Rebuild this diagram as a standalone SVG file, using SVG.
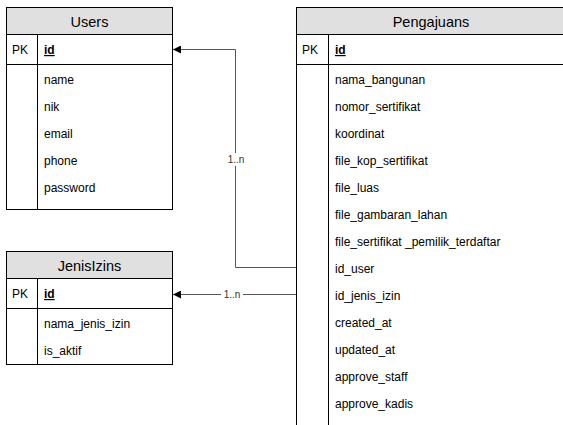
<svg xmlns="http://www.w3.org/2000/svg" width="563" height="425" viewBox="0 0 563 425">
  <style>
    .box { fill: #ffffff; stroke: #000000; stroke-width: 1; }
    .head { fill: #e0e0e0; stroke: #000000; stroke-width: 1; }
    .sep { stroke: #000000; stroke-width: 1; fill: none; }
    .title { font-family: "Liberation Sans", Arial, sans-serif; font-size: 14.5px; fill: #000000; text-anchor: middle; }
    .cell { font-family: "Liberation Sans", Arial, sans-serif; font-size: 12px; fill: #000000; }
    .pk { font-family: "Liberation Sans", Arial, sans-serif; font-size: 12px; fill: #000000; font-weight: bold; text-decoration: underline; }
    .link { stroke: #555555; stroke-width: 1; fill: none; }
    .lbl { font-family: "Liberation Sans", Arial, sans-serif; font-size: 10px; fill: #333333; text-anchor: middle; }
  </style>
  <defs>
    <marker id="arrow" viewBox="0 0 10 10" refX="10" refY="5" markerWidth="8" markerHeight="8" markerUnits="userSpaceOnUse" orient="auto">
      <path d="M0,0 L10,5 L0,10 Z" fill="#000000"/>
    </marker>
  </defs>
  <rect width="563" height="425" fill="#ffffff"/>

  <!-- Users table -->
  <g id="users">
    <rect class="box" x="6.5" y="7.5" width="166" height="202"/>
    <rect class="head" x="6.5" y="7.5" width="166" height="27"/>
    <text class="title" x="89.5" y="26.5">Users</text>
    <line class="sep" x1="6.5" y1="64.5" x2="172.5" y2="64.5"/>
    <line class="sep" x1="37.5" y1="34.5" x2="37.5" y2="209.5"/>
    <text class="cell" x="12" y="54">PK</text>
    <text class="pk" x="44" y="54">id</text>
    <text class="cell" x="44" y="84">name</text>
    <text class="cell" x="44" y="111">nik</text>
    <text class="cell" x="44" y="138">email</text>
    <text class="cell" x="44" y="165">phone</text>
    <text class="cell" x="44" y="192">password</text>
  </g>

  <!-- JenisIzins table -->
  <g id="jenisizins">
    <rect class="box" x="6.5" y="251.5" width="166" height="113"/>
    <rect class="head" x="6.5" y="251.5" width="166" height="27"/>
    <text class="title" x="89.5" y="270.5">JenisIzins</text>
    <line class="sep" x1="6.5" y1="308.5" x2="172.5" y2="308.5"/>
    <line class="sep" x1="37.5" y1="278.5" x2="37.5" y2="364.5"/>
    <text class="cell" x="12" y="298">PK</text>
    <text class="pk" x="44" y="298">id</text>
    <text class="cell" x="44" y="328">nama_jenis_izin</text>
    <text class="cell" x="44" y="355">is_aktif</text>
  </g>

  <!-- Pengajuans table (runs past the right and bottom edges) -->
  <g id="pengajuans">
    <rect class="box" x="296.5" y="7.5" width="270" height="430"/>
    <rect class="head" x="296.5" y="7.5" width="270" height="27"/>
    <text class="title" x="431" y="26.5">Pengajuans</text>
    <line class="sep" x1="296.5" y1="64.5" x2="566" y2="64.5"/>
    <line class="sep" x1="328.5" y1="34.5" x2="328.5" y2="437"/>
    <text class="cell" x="302" y="54">PK</text>
    <text class="pk" x="335" y="54">id</text>
    <text class="cell" x="335" y="84">nama_bangunan</text>
    <text class="cell" x="335" y="111">nomor_sertifikat</text>
    <text class="cell" x="335" y="138">koordinat</text>
    <text class="cell" x="335" y="165">file_kop_sertifikat</text>
    <text class="cell" x="335" y="192">file_luas</text>
    <text class="cell" x="335" y="219">file_gambaran_lahan</text>
    <text class="cell" x="335" y="246">file_sertifikat _pemilik_terdaftar</text>
    <text class="cell" x="335" y="273">id_user</text>
    <text class="cell" x="335" y="300">id_jenis_izin</text>
    <text class="cell" x="335" y="327">created_at</text>
    <text class="cell" x="335" y="354">updated_at</text>
    <text class="cell" x="335" y="381">approve_staff</text>
    <text class="cell" x="335" y="408">approve_kadis</text>
  </g>

  <!-- Relationships -->
  <g id="connectors">
    <path class="link" d="M296,267.5 H235.5 V49.5 H173" marker-end="url(#arrow)"/>
    <rect x="225" y="153" width="22" height="13" fill="#ffffff"/>
    <text class="lbl" x="236" y="163">1..n</text>
    <path class="link" d="M296,294.5 H173" marker-end="url(#arrow)"/>
    <rect x="221" y="288" width="22" height="12" fill="#ffffff"/>
    <text class="lbl" x="232" y="298">1..n</text>
  </g>
</svg>
